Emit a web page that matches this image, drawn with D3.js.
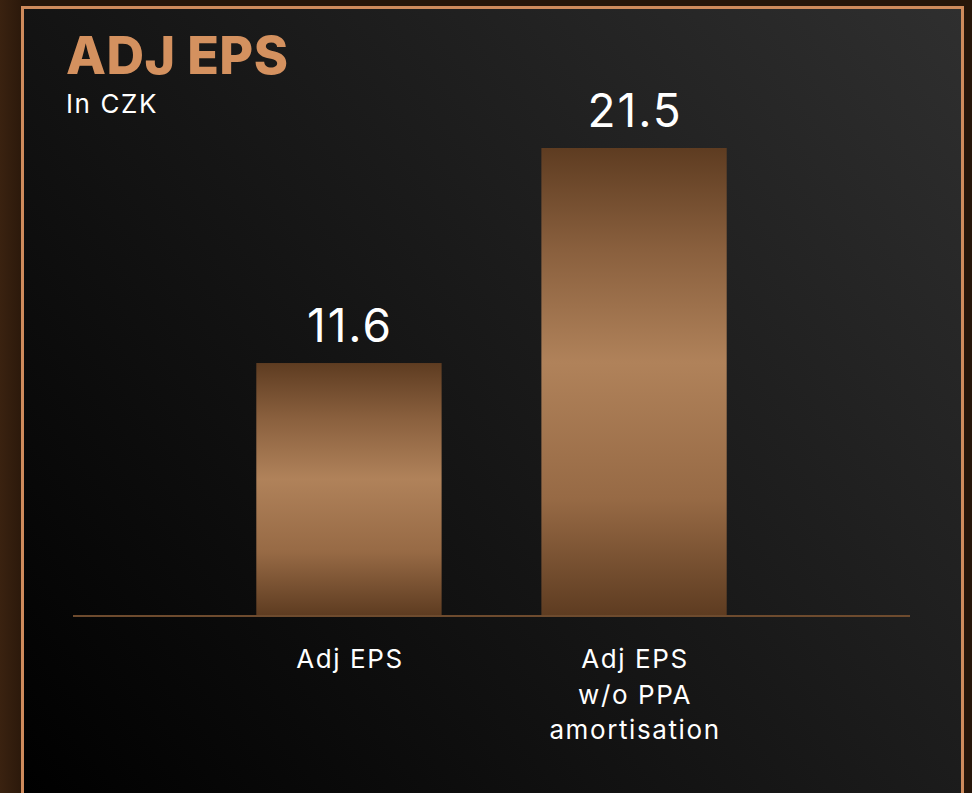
<!DOCTYPE html>
<html>
<head>
<meta charset="utf-8">
<script src="https://cdn.jsdelivr.net/npm/d3@7"></script>
<style>
  html, body { margin: 0; padding: 0; background: #2a180b; }
  svg { display: block; }
</style>
</head>
<body>
<div id="chart"></div>
<script>
// chart data
var categories = ["Adj EPS", "Adj EPS\nw/o PPA\namortisation"];
var values = [11.6, 21.5];
var valueLabels = ["11.6", "21.5"];
var title = "ADJ EPS";
var subtitle = "In CZK";

var W = 972, H = 793;
var panel = {left: 22.5, top: 7.5, right: 962.5};
var baseY = 615;

var svg = d3.select("#chart").append("svg")
	.attr("width", W)
	.attr("height", H);

var defs = svg.append("defs");

// left brown strip
var strip = defs.append("linearGradient").attr("id", "strip")
	.attr("x1", 0).attr("y1", 0).attr("x2", 1).attr("y2", 0);
strip.append("stop").attr("offset", "0%").attr("stop-color", "#3a2210");
strip.append("stop").attr("offset", "100%").attr("stop-color", "#2c190b");

// panel background, dark bottom-left to grey top-right
var bg = defs.append("linearGradient").attr("id", "panelbg")
	.attr("gradientUnits", "userSpaceOnUse")
	.attr("x1", panel.left).attr("y1", H).attr("x2", panel.right).attr("y2", panel.top);
bg.append("stop").attr("offset", "0%").attr("stop-color", "#000000");
bg.append("stop").attr("offset", "100%").attr("stop-color", "#2f2f2f");

// bar gradient: dark top/bottom, light middle
var barg = defs.append("linearGradient").attr("id", "bargrad")
	.attr("x1", 0).attr("y1", 0).attr("x2", 0).attr("y2", 1);
barg.append("stop").attr("offset", "0%").attr("stop-color", "#5e3c21");
barg.append("stop").attr("offset", "22%").attr("stop-color", "#8a603e");
barg.append("stop").attr("offset", "46%").attr("stop-color", "#b0825a");
barg.append("stop").attr("offset", "75%").attr("stop-color", "#976a45");
barg.append("stop").attr("offset", "100%").attr("stop-color", "#5e3c21");

svg.append("rect").attr("x", 0).attr("y", 0).attr("width", W).attr("height", H).attr("fill", "#26160a");
svg.append("rect").attr("x", 0).attr("y", 0).attr("width", 21).attr("height", H).attr("fill", "url(#strip)");

svg.append("rect")
	.attr("x", panel.left).attr("y", panel.top)
	.attr("width", panel.right - panel.left).attr("height", H + 20)
	.attr("fill", "url(#panelbg)")
	.attr("stroke", "#cf8b5c")
	.attr("stroke-width", 3);

// scales
var xScale = d3.scaleBand()
	.domain(categories)
	.range([73, 910])
	.paddingInner(0.35)
	.paddingOuter(0.643);

var yScale = d3.scaleLinear()
	.domain([0, 21.5])
	.range([baseY, 148]);

// bars
svg.selectAll(".bar")
	.data(values)
	.enter()
	.append("rect")
		.attr("class", "bar")
		.attr("x", function(d, i) { return xScale(categories[i]); })
		.attr("y", function(d) { return yScale(d); })
		.attr("width", xScale.bandwidth())
		.attr("height", function(d) { return baseY - yScale(d); })
		.attr("fill", "url(#bargrad)");

// baseline
svg.append("line")
	.attr("x1", 73).attr("x2", 910)
	.attr("y1", baseY + 1).attr("y2", baseY + 1)
	.attr("stroke", "#6e4b2e")
	.attr("stroke-width", 2);

// value labels
svg.selectAll(".val")
	.data(values)
	.enter()
	.append("text")
		.attr("class", "val")
		.attr("x", function(d, i) { return xScale(categories[i]) + xScale.bandwidth() / 2 + 1; })
		.attr("y", function(d) { return yScale(d) - 21; })
		.attr("text-anchor", "middle")
		.attr("font-family", "Inter, sans-serif")
		.attr("font-size", "46px")
		.attr("letter-spacing", "2px")
		.attr("fill", "#ffffff")
		.text(function(d, i) { return valueLabels[i]; });

// category labels
var cat = svg.selectAll(".cat")
	.data(categories)
	.enter()
	.append("text")
		.attr("class", "cat")
		.attr("text-anchor", "middle")
		.attr("font-family", "Inter, sans-serif")
		.attr("font-size", "26px")
		.attr("letter-spacing", "1.6px")
		.attr("fill", "#ffffff");
cat.selectAll("tspan")
	.data(function(d) { return d.split("\n").map(function(t) { return {t: t, c: d}; }); })
	.enter()
	.append("tspan")
		.attr("x", function(d) { return xScale(d.c) + xScale.bandwidth() / 2 + 1; })
		.attr("y", function(d, i) { return 668 + i * 35.5; })
		.text(function(d) { return d.t; });

// titles
svg.append("text")
	.attr("x", 66).attr("y", 74)
	.attr("font-family", "Inter, sans-serif")
	.attr("font-weight", 800)
	.attr("font-size", "52px")
	.attr("letter-spacing", "0.4px")
	.attr("fill", "#d4915f")
	.text(title);

svg.append("text")
	.attr("x", 66).attr("y", 113)
	.attr("font-family", "Inter, sans-serif")
	.attr("font-size", "26px")
	.attr("letter-spacing", "1.6px")
	.attr("fill", "#ffffff")
	.text(subtitle);
</script>
</body>
</html>
